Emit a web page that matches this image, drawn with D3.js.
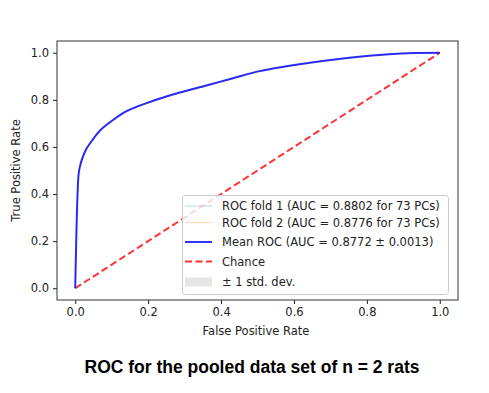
<!DOCTYPE html>
<html>
<head>
<meta charset="utf-8">
<script src="https://cdn.jsdelivr.net/npm/d3@7"></script>
<style>
  body { margin: 0; background: #fff; }
  svg { display: block; }
</style>
</head>
<body>
<div id="chart"></div>
<script>
// Values
const fpr = [0, 0.009, 0.012, 0.018, 0.03, 0.05, 0.068, 0.1, 0.141, 0.214, 0.287, 0.36, 0.433, 0.506, 0.615, 0.752, 0.861, 0.93, 1];
const meanTpr = [0, 0.48, 0.51, 0.545, 0.59, 0.635, 0.67, 0.71, 0.752, 0.796, 0.831, 0.861, 0.892, 0.922, 0.951, 0.979, 0.994, 0.999, 1];
const fold1Tpr = [0, 0.485, 0.515, 0.55, 0.594, 0.639, 0.673, 0.713, 0.755, 0.798, 0.833, 0.863, 0.894, 0.923, 0.952, 0.98, 0.994, 0.999, 1];
const fold2Tpr = [0, 0.476, 0.506, 0.541, 0.587, 0.632, 0.667, 0.707, 0.749, 0.794, 0.829, 0.859, 0.89, 0.921, 0.95, 0.978, 0.994, 0.999, 1];
const xTicks = [0, 0.2, 0.4, 0.6, 0.8, 1.0];
const yTicks = [0, 0.2, 0.4, 0.6, 0.8, 1.0];
const legendLabels = [
  "ROC fold 1 (AUC = 0.8802 for 73 PCs)",
  "ROC fold 2 (AUC = 0.8776 for 73 PCs)",
  "Mean ROC (AUC = 0.8772 \u00b1 0.0013)",
  "Chance",
  "\u00b1 1 std. dev."
];
const titleText = "ROC for the pooled data set of n = 2 rats";

const width = 489, height = 393;
const plot = { left: 57, right: 458, top: 41, bottom: 300 };
const fs = 11.5;

const svg = d3.select("#chart").append("svg")
  .attr("width", width)
  .attr("height", height)
  .style("font-family", "'DejaVu Sans', sans-serif");

const x = d3.scaleLinear().domain([-0.05, 1.05]).range([plot.left, plot.right]);
const y = d3.scaleLinear().domain([-0.05, 1.05]).range([plot.bottom, plot.top]);

const smooth = d3.curveCatmullRom.alpha(0.5);
const pts = arr => fpr.map((f, i) => [f, arr[i]]);
const line = d3.line().x(d => x(d[0])).y(d => y(d[1])).curve(smooth);

// std band between the folds
const band = d3.area()
  .x((d, i) => x(fpr[i]))
  .y0((d, i) => y(Math.min(fold1Tpr[i], fold2Tpr[i])))
  .y1((d, i) => y(Math.max(fold1Tpr[i], fold2Tpr[i])))
  .curve(smooth);
svg.append("path").datum(fpr).attr("d", band).attr("fill", "grey").attr("opacity", 0.2);

svg.append("path").datum(pts(fold1Tpr)).attr("d", line)
  .attr("fill", "none").attr("stroke", "#1f77b4").attr("stroke-opacity", 0.3).attr("stroke-width", 1);
svg.append("path").datum(pts(fold2Tpr)).attr("d", line)
  .attr("fill", "none").attr("stroke", "#ff7f0e").attr("stroke-opacity", 0.3).attr("stroke-width", 1);

// chance line
svg.append("path").datum([[0, 0], [1, 1]])
  .attr("d", d3.line().x(d => x(d[0])).y(d => y(d[1])))
  .attr("stroke", "red").attr("stroke-opacity", 0.8).attr("stroke-width", 2)
  .attr("stroke-dasharray", "7,3.5").attr("fill", "none");

// mean ROC
svg.append("path").datum(pts(meanTpr)).attr("d", line)
  .attr("fill", "none").attr("stroke", "blue").attr("stroke-opacity", 0.8).attr("stroke-width", 2);

// axes
const xAxis = svg.append("g").attr("transform", `translate(0,${plot.bottom})`)
  .call(d3.axisBottom(x).tickValues(xTicks).tickFormat(d3.format(".1f")).tickSize(4).tickPadding(4));
const yAxis = svg.append("g").attr("transform", `translate(${plot.left},0)`)
  .call(d3.axisLeft(y).tickValues(yTicks).tickFormat(d3.format(".1f")).tickSize(4).tickPadding(4));
[xAxis, yAxis].forEach(a => {
  a.select(".domain").remove();
  a.selectAll("text").attr("font-size", fs).attr("fill", "#222").style("font-family", "'DejaVu Sans', sans-serif");
  a.selectAll("line").attr("stroke", "#222");
});

// frame
svg.append("rect")
  .attr("x", plot.left).attr("y", plot.top)
  .attr("width", plot.right - plot.left).attr("height", plot.bottom - plot.top)
  .attr("fill", "none").attr("stroke", "#333").attr("stroke-width", 1);

svg.append("text").attr("x", 256).attr("y", 335)
  .attr("text-anchor", "middle").attr("font-size", fs).attr("fill", "#222")
  .text("False Positive Rate");
svg.append("text").attr("transform", `translate(20,${(plot.top + plot.bottom) / 2}) rotate(-90)`)
  .attr("text-anchor", "middle").attr("font-size", fs).attr("fill", "#222")
  .text("True Positive Rate");

// legend
const lg = svg.append("g");
lg.append("rect").attr("x", 182.5).attr("y", 195.5).attr("width", 266).attr("height", 99)
  .attr("rx", 3).attr("fill", "white").attr("fill-opacity", 0.8)
  .attr("stroke", "#ccc").attr("stroke-width", 1);
const rowY = [206, 222.5, 242, 261.5, 282];
const handles = [
  { stroke: "#1f77b4", op: 0.3, w: 1 },
  { stroke: "#ff7f0e", op: 0.3, w: 1 },
  { stroke: "blue", op: 0.8, w: 2 },
  { stroke: "red", op: 0.8, w: 2, dash: "7,3.5" },
  { patch: true }
];
legendLabels.forEach((lab, i) => {
  const h = handles[i];
  if (h.patch) {
    lg.append("rect").attr("x", 185).attr("y", rowY[i] - 4.5).attr("width", 27).attr("height", 9)
      .attr("fill", "grey").attr("opacity", 0.2);
  } else {
    lg.append("line").attr("x1", 185).attr("x2", 212).attr("y1", rowY[i]).attr("y2", rowY[i])
      .attr("stroke", h.stroke).attr("stroke-opacity", h.op).attr("stroke-width", h.w)
      .attr("stroke-dasharray", h.dash || null);
  }
  lg.append("text").attr("x", 222).attr("y", rowY[i]).attr("dy", "0.35em")
    .attr("font-size", fs).attr("fill", "#222").text(lab);
});

// title
svg.append("text").attr("x", 252).attr("y", 373)
  .attr("text-anchor", "middle").attr("font-size", 17.5).attr("font-weight", "bold")
  .style("font-family", "'Liberation Sans', Arial, sans-serif").attr("fill", "#000")
  .text(titleText);
</script>
</body>
</html>
